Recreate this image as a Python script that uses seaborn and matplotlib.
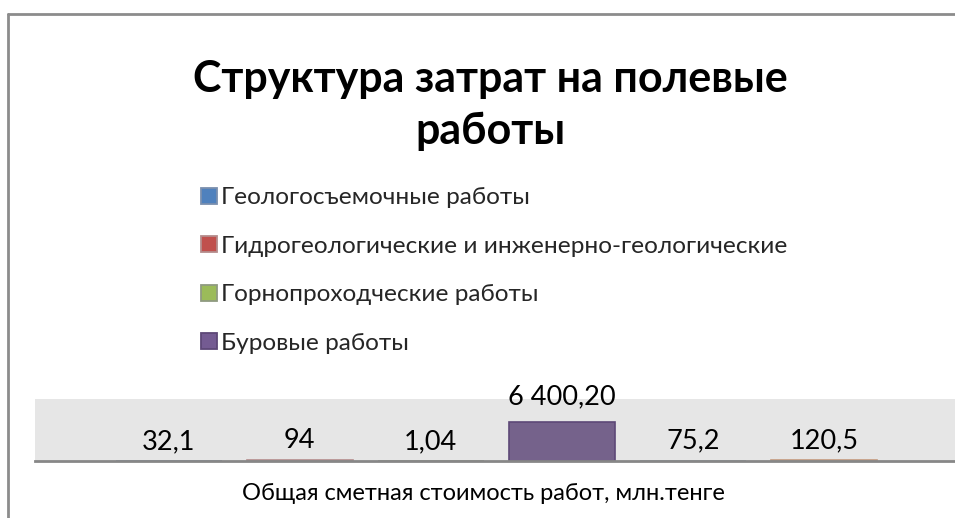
import matplotlib
matplotlib.use("Agg")
import matplotlib.pyplot as plt
import seaborn as sns
import pandas as pd
from matplotlib.lines import Line2D

# ---- data ----
categories = [
    "Геологосъемочные работы",
    "Гидрогеологические и инженерно-геологические",
    "Горнопроходческие работы",
    "Буровые работы",
    "Лабораторные работы",
    "Камеральные работы",
]
values = [32.1, 94, 1.04, 6400.20, 75.2, 120.5]
value_labels = ["32,1", "94", "1,04", "6 400,20", "75,2", "120,5"]
legend_count = 4
title = "Структура затрат на полевые\nработы"
xlabel = "Общая сметная стоимость работ, млн.тенге"

# ---- style ----
fill_colors = ["#4F81BD", "#C0504D", "#9BBB59", "#745B92", "#4BACC6", "#F79646"]
edge_colors = ["#7A8FAE", "#B48C8C", "#8F9A80", "#5D4877", "#8FA9B3", "#C49A7E"]

sns.set_theme(style="white")
plt.rcParams["font.family"] = ["Lato", "Open Sans", "DejaVu Sans"]

fig = plt.figure(figsize=(9.55, 5.18), dpi=100)
W, H = 955, 518
ax = fig.add_axes([35 / W, 1 - 461 / H, 1 - 35 / W, 62 / H])

df = pd.DataFrame({"category": categories, "value": values})
sns.barplot(data=df, x="category", y="value", hue="category",
            palette=fill_colors, width=0.81, legend=False, ax=ax,
            linewidth=1.2)

for patch, ec in zip(ax.patches, edge_colors):
    patch.set_edgecolor(ec)

ax.set_facecolor("#E6E6E6")
ax.set_xlim(-1.02, 6.0)
ax.set_ylim(0, 10150)
ax.set_xticks([])
ax.set_yticks([])
ax.set_xlabel("")
ax.set_ylabel("")
for s in ["left", "top", "right"]:
    ax.spines[s].set_visible(False)
ax.spines["bottom"].set_color("#878787")
ax.spines["bottom"].set_linewidth(2)

# data labels, all on a common baseline offset above each bar
vmax = max(values)
for container, lab, v in zip(ax.containers, value_labels, values):
    bar = container.patches[0]
    x = bar.get_x() + bar.get_width() / 2
    y = bar.get_height()
    ax.annotate(lab, (x, y), xytext=(0, 12.5 if v == vmax else 8.6),
                textcoords="offset points", ha="center", va="baseline",
                fontsize=19.5, color="#000000", annotation_clip=False)

# title
fig.text(490 / W, 1 - 105 / H, title, ha="center", va="center",
         fontsize=31, fontweight="bold", linespacing=1.35, color="#000000")

# legend (first entries only, as in the reference)
handles = [Line2D([0], [0], marker="s", linestyle="none", markersize=12,
                  markerfacecolor=fill_colors[i],
                  markeredgecolor=edge_colors[i] if i != 3 else "#5D4877",
                  markeredgewidth=1.3)
           for i in range(legend_count)]
fig.legend(handles, categories[:legend_count], loc="upper left",
           bbox_to_anchor=(198 / W, 1 - 187 / H), frameon=False,
           fontsize=17.6, labelspacing=1.12, handletextpad=0.05,
           handlelength=0.9, borderpad=0, borderaxespad=0)

# axis title
fig.text(483 / W, 1 - 493 / H, xlabel, ha="center", va="center",
         fontsize=17, color="#000000")

# chart frame
fig.add_artist(Line2D([8 / W, 1.01], [1 - 14 / H, 1 - 14 / H],
                      transform=fig.transFigure, color="#8C8C8C", lw=2))
fig.add_artist(Line2D([8 / W, 8 / W], [1 - 14 / H, -0.01],
                      transform=fig.transFigure, color="#8C8C8C", lw=2))

fig.savefig("out.png", dpi=100, facecolor="white")
